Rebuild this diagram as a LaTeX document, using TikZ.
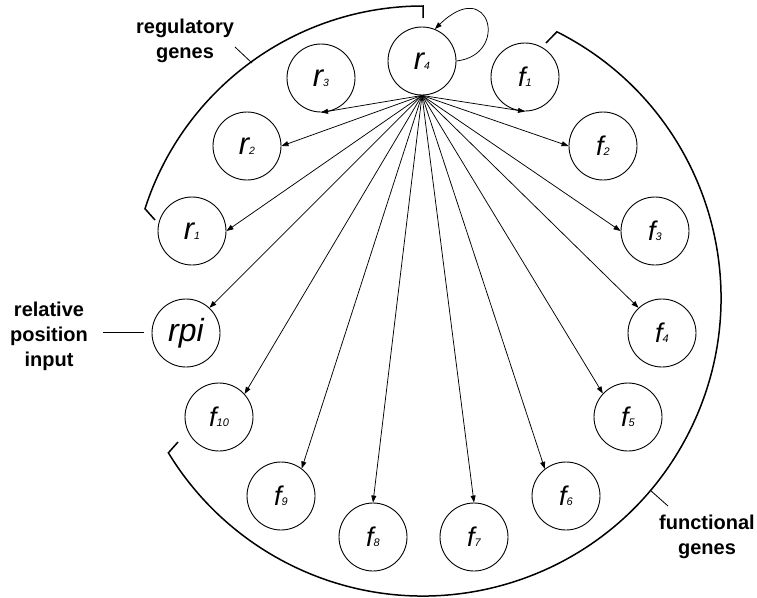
\documentclass[tikz,border=0pt]{standalone}
\usepackage{fontspec}
\setmainfont{Liberation Sans}
\usetikzlibrary{arrows.meta}
\newcommand\rlab[2]{{\fontsize{31}{31}\selectfont\itshape #1}{\fontsize{10.5}{10.5}\selectfont\itshape #2}}
\newcommand\flab[2]{{\fontsize{27}{27}\selectfont\itshape #1}{\fontsize{11}{11}\selectfont\itshape #2}}
\begin{document}
\begin{tikzpicture}[x=1pt,y=1pt,
  gene/.style={circle,draw,line width=0.9pt,minimum size=68pt,inner sep=0pt},
  link/.style={-{Triangle[length=7pt,width=5pt]},line width=0.75pt},
  bracket/.style={line width=1.5pt},
  leader/.style={line width=0.8pt},
  grouplab/.style={align=center,font=\fontsize{20}{25}\selectfont\bfseries}]
\useasboundingbox (0,0) rectangle (757,-597);
% genes
\node[gene] (r4) at (422,-61) {\rlab{r}{4}};
\node[gene] (r3) at (321,-78) {\rlab{r}{3}};
\node[gene] (r2) at (247,-146) {\rlab{r}{2}};
\node[gene] (r1) at (192,-231) {\rlab{r}{1}};
\node[gene] (rpi) at (186,-333) {{\fontsize{32}{32}\selectfont\itshape rpi}};
\node[gene] (f10) at (219,-417) {\flab{f}{10}};
\node[gene] (f9) at (281,-496) {\flab{f}{9}};
\node[gene] (f8) at (373,-537) {\flab{f}{8}};
\node[gene] (f7) at (474,-537) {\flab{f}{7}};
\node[gene] (f6) at (566,-496) {\flab{f}{6}};
\node[gene] (f5) at (628,-417) {\flab{f}{5}};
\node[gene] (f4) at (662,-333) {\flab{f}{4}};
\node[gene] (f3) at (655,-231) {\flab{f}{3}};
\node[gene] (f2) at (603,-146) {\flab{f}{2}};
\node[gene] (f1) at (525,-77) {\flab{f}{1}};
% group labels
\node[grouplab] (reglab) at (185,-41) {regulatory\\genes};
\node[grouplab] (funlab) at (707,-537) {functional\\genes};
\node[grouplab] (rpilab) at (49,-336) {relative\\position\\input};
% arrows from r4
\draw[link] (r4.south) -- (r3.south);
\draw[link] (r4.south) -- (f1.south);
\draw[link] (r4.south) -- (r2.east);
\draw[link] (r4.south) -- (f2.west);
\draw[link] (r4.south) -- (r1.east);
\draw[link] (r4.south) -- (f3.west);
\draw[link] (r4.south) -- (rpi.47);
\draw[link] (r4.south) -- (f4.133);
\draw[link] (r4.south) -- (f10.42);
\draw[link] (r4.south) -- (f5.137);
\draw[link] (r4.south) -- (f9.53);
\draw[link] (r4.south) -- (f6.128);
\draw[link] (r4.south) -- (f8.north);
\draw[link] (r4.south) -- (f7.north);
% self loop
\draw[link] (r4.east) .. controls (510,-55) and (490,25) .. (r4.68);
% group brackets
\coordinate (C) at (423,-298);
\coordinate (regtick) at (155,-220);
\coordinate (funtick) at (546,-43);
\coordinate (funend) at (178,-442);
\draw[bracket] (regtick) -- ([shift={(162.2:292)}]C) arc[start angle=162.2,end angle=90,radius=292] -- ++(0,-12);
\draw[bracket] (funtick) -- ([shift={(63.3:298)}]C) arc[start angle=63.3,end angle=-148.7,radius=298] -- (funend);
% leader lines
\coordinate (regA) at (235,-47);
\coordinate (regB) at (252,-63);
\draw[leader] (regA) -- (regB);
\coordinate (funA) at (668,-506);
\coordinate (funB) at (650,-490);
\draw[leader] (funA) -- (funB);
\coordinate (rpiA) at (103,-332);
\coordinate (rpiB) at (144,-332);
\draw[leader] (rpiA) -- (rpiB);
\end{tikzpicture}
\end{document}
